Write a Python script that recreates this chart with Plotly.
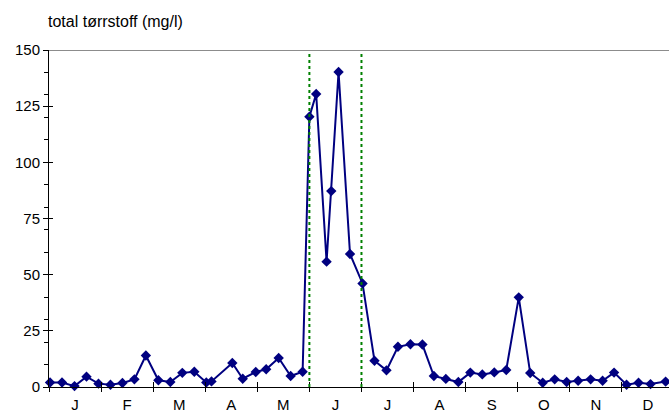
import plotly.graph_objects as go

# ---- data (x in month units: 0 = 1 Jan, 12 = end of Dec) ----
months = ["J", "F", "M", "A", "M", "J", "J", "A", "S", "O", "N", "D"]
sample_month = [0.02, 0.25, 0.49, 0.72, 0.95, 1.18, 1.41, 1.64, 1.86, 2.10, 2.33, 2.56,
                2.79, 3.02, 3.12, 3.52, 3.72, 3.97, 4.17, 4.41, 4.64, 4.87, 5.00, 5.13,
                5.33, 5.42, 5.56, 5.78, 6.02, 6.25, 6.48, 6.70, 6.94, 7.17, 7.39, 7.62,
                7.86, 8.09, 8.32, 8.55, 8.78, 9.02, 9.24, 9.48, 9.71, 9.94, 10.16, 10.40,
                10.63, 10.85, 11.09, 11.32, 11.55, 11.84]
tss = [2.0, 2.0, 0.4, 4.6, 1.5, 1.0, 1.8, 3.4, 14.0, 3.0, 2.2, 6.3,
       6.8, 2.0, 2.5, 10.7, 3.7, 6.7, 7.9, 12.9, 4.9, 6.8, 120.3, 130.4,
       55.8, 87.2, 140.2, 59.2, 46.1, 11.7, 7.4, 17.9, 19.0, 18.9, 4.9, 3.6,
       2.2, 6.4, 5.6, 6.5, 7.6, 39.9, 6.2, 1.9, 3.4, 2.2, 2.8, 3.4,
       2.8, 6.4, 1.0, 1.9, 1.3, 2.4]
flood_period = [5.0, 6.0]   # 1 June and 1 July
y_ticks = [0, 25, 50, 75, 100, 125, 150]
x_range = [0, 11.905]
y_range = [0, 150]
title_text = "total tørrstoff (mg/l)"

FONT = "Arial, Liberation Sans, sans-serif"

fig = go.Figure()
fig.add_trace(go.Scatter(
    x=sample_month, y=tss, mode="lines+markers",
    line=dict(color="#000080", width=2),
    marker=dict(symbol="diamond", size=8, color="#000080"),
    cliponaxis=False, showlegend=False, hoverinfo="x+y"))
# invisible helper trace so the overlay axes are drawn
fig.add_trace(go.Scatter(x=[None], y=[None], xaxis="x2", yaxis="y2",
                         showlegend=False, hoverinfo="skip"))

for xv in flood_period:
    fig.add_shape(type="line", xref="x", yref="y", x0=xv, x1=xv,
                  y0=y_range[0], y1=y_range[1],
                  line=dict(color="#008000", width=2, dash="3px,3px"))
fig.add_shape(type="line", xref="paper", yref="y", x0=0, x1=1,
              y0=y_range[1], y1=y_range[1],
              line=dict(color="#8c8c8c", width=2))

fig.update_layout(
    width=669, height=412,
    margin=dict(l=49, r=0, t=50, b=25, autoexpand=False),
    paper_bgcolor="white", plot_bgcolor="white",
    font=dict(family=FONT, size=15, color="black"),
    xaxis=dict(range=x_range, tickmode="array",
               tickvals=[i + 0.5 for i in range(12)], ticktext=months,
               ticks="", showgrid=False, zeroline=False,
               showline=True, linecolor="black", linewidth=1,
               tickfont=dict(size=15), ticklabelstandoff=4,
               minor=dict(tickmode="array", tickvals=list(range(13)),
                          ticks="outside", ticklen=4, tickcolor="black",
                          tickwidth=1, showgrid=False)),
    xaxis2=dict(range=x_range, overlaying="x", anchor="y2", side="bottom",
                tickmode="array", tickvals=list(range(13)),
                ticks="inside", ticklen=5, tickcolor="black",
                showticklabels=False, showgrid=False, zeroline=False,
                showline=False),
    yaxis=dict(range=y_range, tickmode="array", tickvals=y_ticks,
               ticks="outside", ticklen=5, tickcolor="black",
               showgrid=False, zeroline=False,
               showline=True, linecolor="black", linewidth=1,
               tickfont=dict(size=15),
               minor=dict(tickmode="linear", tick0=0, dtick=10,
                          ticks="outside", ticklen=4, tickcolor="black",
                          showgrid=False)),
    yaxis2=dict(range=y_range, overlaying="y", anchor="x2", side="left",
                tickmode="array", tickvals=y_ticks,
                ticks="inside", ticklen=4, tickcolor="black",
                showticklabels=False, showgrid=False, zeroline=False,
                showline=False),
    annotations=[dict(text=title_text, xref="paper", yref="paper",
                      x=-3 / 620, y=1 + 29 / 337, xanchor="left", yanchor="middle",
                      showarrow=False, font=dict(size=16, family=FONT))],
)

fig.write_html("out.html",
               config={"displayModeBar": False},
               post_script="document.body.style.margin='0';document.body.style.overflow='hidden';")
